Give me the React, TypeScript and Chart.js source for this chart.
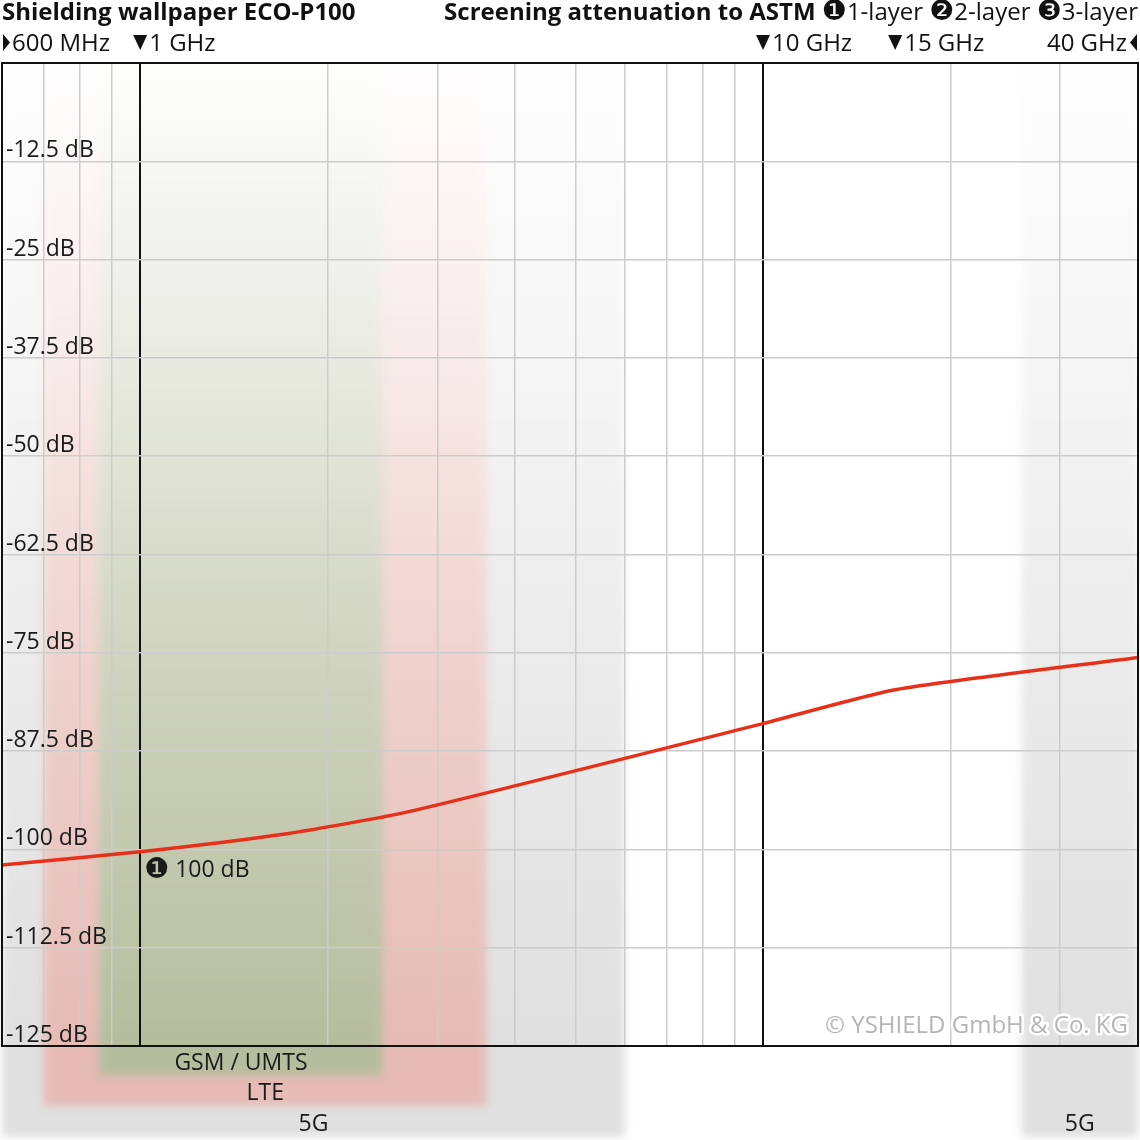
import React, { useEffect, useRef } from 'react';
import { Chart, registerables } from 'chart.js';

Chart.register(...registerables);

// ---- data ----
const frequenciesMHz = [600, 1000, 1720, 2700, 10000, 16300, 40000];
const attenuation1Layer = [-102, -100.3, -98, -95.2, -84, -79.7, -75.6];

const xGridFreqs = [600, 700, 800, 900, 1000, 2000, 3000, 4000, 5000, 6000, 7000, 8000, 9000, 10000, 20000, 30000, 40000];
const yGridValues = [0, -12.5, -25, -37.5, -50, -62.5, -75, -87.5, -100, -112.5, -125];
const yTickValues = [-12.5, -25, -37.5, -50, -62.5, -75, -87.5, -100, -112.5, -125];
const yTickLabels = ['-12.5 dB', '-25 dB', '-37.5 dB', '-50 dB', '-62.5 dB', '-75 dB', '-87.5 dB', '-100 dB', '-112.5 dB', '-125 dB'];

const markerFreqs = [600, 1000, 10000, 16300, 40000];
const markerLabels = ['600 MHz', '1 GHz', '10 GHz', '15 GHz', '40 GHz'];

const bandNames = ['5G', 'LTE', 'GSM / UMTS', '5G'];
const bandStartMHz = [600, 700, 860, 26000];
const bandEndMHz = [6000, 3600, 2450, 40000];

const titleText = 'Shielding wallpaper ECO-P100';
const subtitleBold = 'Screening attenuation to ASTM ';
const layerSymbols = ['❶', '❷', '❸'];
const layerLabels = ['1-layer ', '2-layer ', '3-layer'];
const annotationFreq = 1000;
const annotationValue = -100;
const annotationText = '100 dB';
const copyrightText = '© YSHIELD GmbH & Co. KG';

// ---- styles ----
const FONT = '"Open Sans", "DejaVu Sans", sans-serif';
const SYMFONT = '"DejaVu Sans", sans-serif';
const bandColors = [[224, 224, 224], [230, 187, 181], [182, 189, 158]];
const bandColorIndex = [0, 1, 2, 0];
const bandRow = [2, 1, 0, 2];
const rowCenters = [1062, 1092, 1123];

function mix(c: number[], t: number) {
  const r = Math.round(255 + (c[0] - 255) * t);
  const g = Math.round(255 + (c[1] - 255) * t);
  const b = Math.round(255 + (c[2] - 255) * t);
  return `rgb(${r},${g},${b})`;
}

const drawPlugin = {
  id: 'decor',
  beforeDraw(chart: any) {
    const { ctx, chartArea } = chart;
    const xs = chart.scales.x;
    ctx.save();
    ctx.fillStyle = '#ffffff';
    ctx.fillRect(0, 0, chart.width, chart.height);
    bandNames.forEach((_n, i) => {
      const x0 = xs.getPixelForValue(bandStartMHz[i]);
      const x1 = xs.getPixelForValue(bandEndMHz[i]);
      const yb = rowCenters[bandRow[i]] + 14;
      const top = chartArea.top;
      const col = bandColors[bandColorIndex[i]];
      const g = ctx.createLinearGradient(0, top, 0, yb);
      const fb = (chartArea.bottom - top) / (yb - top);
      g.addColorStop(0, mix(col, 0.02));
      g.addColorStop(fb * 0.3, mix(col, 0.3));
      g.addColorStop(fb * 0.6, mix(col, 0.65));
      g.addColorStop(fb, mix(col, 1));
      g.addColorStop(1, mix(col, 1));
      ctx.save();
      ctx.filter = 'blur(4px)';
      ctx.fillStyle = g;
      ctx.fillRect(x0, top, x1 - x0, yb - top);
      ctx.restore();
    });
    ctx.restore();
  },
  afterDraw(chart: any) {
    const { ctx, chartArea } = chart;
    const xs = chart.scales.x;
    const ys = chart.scales.y;
    ctx.save();
    // frame
    ctx.strokeStyle = '#111';
    ctx.lineWidth = 2;
    ctx.strokeRect(chartArea.left, chartArea.top, chartArea.right - chartArea.left, chartArea.bottom - chartArea.top);

    // y labels
    ctx.fillStyle = '#1a1a1a';
    ctx.font = `23px ${FONT}`;
    ctx.textAlign = 'left';
    ctx.textBaseline = 'alphabetic';
    yTickValues.forEach((v, i) => {
      ctx.fillText(yTickLabels[i], chartArea.left + 4, ys.getPixelForValue(v) - 4);
    });

    // band labels
    ctx.textAlign = 'center';
    ctx.textBaseline = 'middle';
    ctx.font = `23px ${FONT}`;
    bandNames.forEach((n, i) => {
      const x0 = xs.getPixelForValue(bandStartMHz[i]);
      const x1 = xs.getPixelForValue(bandEndMHz[i]);
      ctx.fillText(n, (x0 + x1) / 2, rowCenters[bandRow[i]] + 1);
    });

    // annotation
    ctx.textAlign = 'left';
    ctx.textBaseline = 'alphabetic';
    const ax = xs.getPixelForValue(annotationFreq);
    const ay = ys.getPixelForValue(annotationValue);
    ctx.font = `28px ${SYMFONT}`;
    ctx.fillText('❶', ax + 4, ay + 29);
    ctx.font = `23px ${FONT}`;
    ctx.fillText(annotationText, ax + 35, ay + 28);

    // copyright
    ctx.font = `24px ${FONT}`;
    ctx.textAlign = 'right';
    ctx.lineJoin = 'round';
    ctx.strokeStyle = '#ffffff';
    ctx.lineWidth = 5;
    ctx.strokeText(copyrightText, chartArea.right - 10, chartArea.bottom - 13);
    ctx.fillStyle = '#b5b5b5';
    ctx.fillText(copyrightText, chartArea.right - 10, chartArea.bottom - 13);

    // header
    ctx.fillStyle = '#111';
    ctx.textAlign = 'left';
    ctx.font = `bold 24px ${FONT}`;
    ctx.fillText(titleText, 2, 20);
    const segs: { t: string; f: string }[] = [{ t: subtitleBold, f: `bold 24px ${FONT}` }];
    layerSymbols.forEach((s, i) => {
      segs.push({ t: s, f: `28px ${SYMFONT}` });
      segs.push({ t: layerLabels[i], f: `24px ${FONT}` });
    });
    let total = 0;
    segs.forEach((s) => { ctx.font = s.f; total += ctx.measureText(s.t).width; });
    let cx = chartArea.right - total;
    segs.forEach((s) => { ctx.font = s.f; ctx.fillText(s.t, cx, 20); cx += ctx.measureText(s.t).width; });

    // frequency markers
    ctx.font = `24px ${FONT}`;
    const by = 51;
    markerFreqs.forEach((f, i) => {
      const px = xs.getPixelForValue(f);
      ctx.beginPath();
      if (i === 0) {
        ctx.moveTo(px + 1, by - 17); ctx.lineTo(px + 8, by - 8.5); ctx.lineTo(px + 1, by); ctx.closePath(); ctx.fill();
        ctx.textAlign = 'left';
        ctx.fillText(markerLabels[i], px + 10, by);
      } else if (i === markerFreqs.length - 1) {
        ctx.moveTo(px - 1, by - 17); ctx.lineTo(px - 8, by - 8.5); ctx.lineTo(px - 1, by); ctx.closePath(); ctx.fill();
        ctx.textAlign = 'right';
        ctx.fillText(markerLabels[i], px - 11, by);
      } else {
        ctx.moveTo(px - 7, by - 16); ctx.lineTo(px + 7, by - 16); ctx.lineTo(px, by - 1); ctx.closePath(); ctx.fill();
        ctx.textAlign = 'left';
        ctx.fillText(markerLabels[i], px + 9, by);
      }
    });
    ctx.restore();
  },
};

export default function App() {
  const ref = useRef<HTMLCanvasElement | null>(null);
  useEffect(() => {
    if (!ref.current) return;
    const chart = new Chart(ref.current, {
      type: 'line',
      data: {
        datasets: [
          {
            label: '1-layer',
            data: frequenciesMHz.map((f, i) => ({ x: f, y: attenuation1Layer[i] })),
            borderColor: '#e6301a',
            borderWidth: 3.5,
            pointRadius: 0,
            tension: 0.2,
            fill: false,
          },
        ],
      },
      options: {
        responsive: false,
        maintainAspectRatio: false,
        animation: false,
        events: [],
        layout: { padding: { left: 2, right: 2, top: 63, bottom: 94 } },
        plugins: { legend: { display: false }, tooltip: { enabled: false } },
        scales: {
          x: {
            type: 'logarithmic',
            min: 600,
            max: 40000,
            afterBuildTicks: (s: any) => { s.ticks = xGridFreqs.map((v) => ({ value: v })); },
            ticks: { display: false },
            grid: {
              drawTicks: false,
              color: (c: any) => (c.tick && (c.tick.value === 1000 || c.tick.value === 10000) ? '#111' : '#cccccc'),
              lineWidth: (c: any) => (c.tick && (c.tick.value === 1000 || c.tick.value === 10000) ? 2 : 1.5),
            },
            border: { display: false },
          },
          y: {
            type: 'linear',
            min: -125,
            max: 0,
            afterBuildTicks: (s: any) => { s.ticks = yGridValues.map((v) => ({ value: v })); },
            ticks: { display: false },
            grid: { drawTicks: false, color: '#cccccc', lineWidth: 1.5 },
            border: { display: false },
          },
        },
      } as any,
      plugins: [drawPlugin],
    });
    return () => chart.destroy();
  }, []);
  return (
    <div style={{ position: 'absolute', left: 0, top: 0, width: 1140, height: 1140 }}>
      <canvas ref={ref} width={1140} height={1140} style={{ width: 1140, height: 1140, display: 'block' }} />
    </div>
  );
}
